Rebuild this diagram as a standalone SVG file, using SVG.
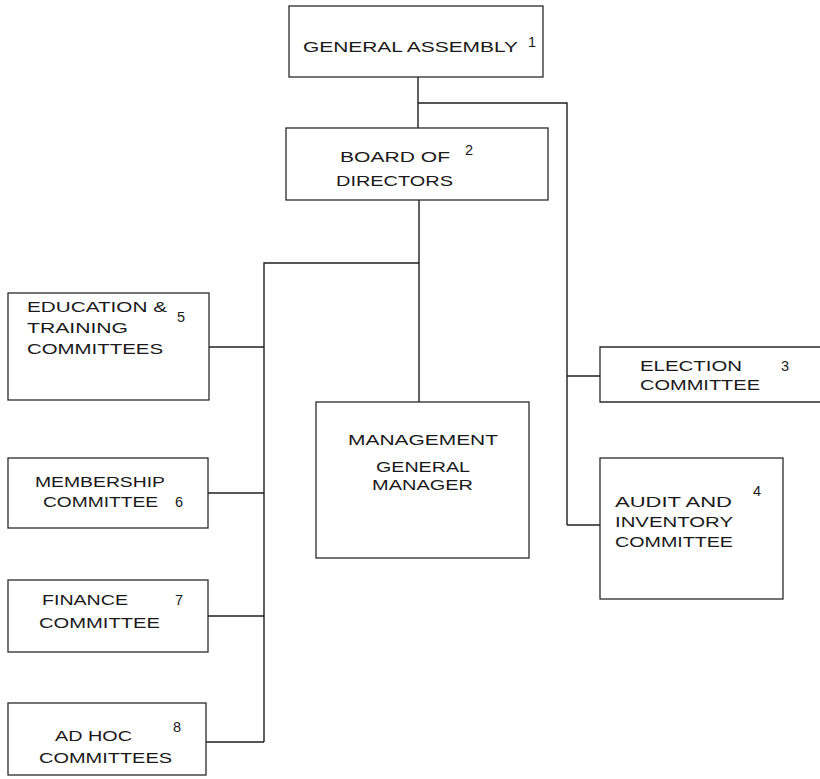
<svg xmlns="http://www.w3.org/2000/svg" width="820" height="779" viewBox="0 0 820 779">
  <style>
    .box { fill: none; stroke: #2a2a2a; stroke-width: 1.3; }
    .wire { fill: none; stroke: #1e1e1e; stroke-width: 1.4; }
    text { font-family: "Liberation Sans", Arial, sans-serif; font-size: 14.5px; fill: #1a1a1a; }
    .num { font-size: 14.5px; }
  </style>
  <rect width="820" height="779" fill="#ffffff"/>

  <!-- connectors -->
  <g id="connectors">
    <!-- General Assembly to Board, with branch to the right-hand committees -->
    <path class="wire" d="M418,77 V128"/>
    <path class="wire" d="M418,103 H567 V525"/>
    <path class="wire" d="M567,376 H600"/>
    <path class="wire" d="M567,525 H600"/>
    <!-- Board to Management and the left-hand committees -->
    <path class="wire" d="M419,200 V402"/>
    <path class="wire" d="M419,263 H264 V742"/>
    <path class="wire" d="M209,347 H264"/>
    <path class="wire" d="M208,493 H264"/>
    <path class="wire" d="M208,616 H264"/>
    <path class="wire" d="M206,742 H264"/>
  </g>

  <g id="general-assembly">
    <rect class="box" x="289" y="6" width="254" height="71"/>
    <text x="303" y="52" textLength="215" lengthAdjust="spacingAndGlyphs">GENERAL ASSEMBLY</text>
    <text class="num" x="528" y="47">1</text>
  </g>

  <g id="board-of-directors">
    <rect class="box" x="286" y="128" width="262" height="72"/>
    <text x="340" y="162" textLength="110" lengthAdjust="spacingAndGlyphs">BOARD OF</text>
    <text class="num" x="465" y="155">2</text>
    <text x="336" y="186" textLength="117" lengthAdjust="spacingAndGlyphs">DIRECTORS</text>
  </g>

  <g id="election-committee">
    <path class="box" d="M820,347 H600 V402 H820"/>
    <text x="640" y="371" textLength="102" lengthAdjust="spacingAndGlyphs">ELECTION</text>
    <text class="num" x="781" y="371">3</text>
    <text x="640" y="390" textLength="120" lengthAdjust="spacingAndGlyphs">COMMITTEE</text>
  </g>

  <g id="audit-inventory-committee">
    <rect class="box" x="600" y="458" width="183" height="141"/>
    <text class="num" x="753" y="496">4</text>
    <text x="615" y="507" textLength="117" lengthAdjust="spacingAndGlyphs">AUDIT AND</text>
    <text x="615" y="527" textLength="118" lengthAdjust="spacingAndGlyphs">INVENTORY</text>
    <text x="615" y="547" textLength="118" lengthAdjust="spacingAndGlyphs">COMMITTEE</text>
  </g>

  <g id="management">
    <rect class="box" x="316" y="402" width="213" height="156"/>
    <text x="348" y="445" textLength="150" lengthAdjust="spacingAndGlyphs">MANAGEMENT</text>
    <text x="376" y="472" textLength="94" lengthAdjust="spacingAndGlyphs">GENERAL</text>
    <text x="372" y="490" textLength="101" lengthAdjust="spacingAndGlyphs">MANAGER</text>
  </g>

  <g id="education-training-committees">
    <rect class="box" x="8" y="293" width="201" height="107"/>
    <text x="27" y="312" textLength="140" lengthAdjust="spacingAndGlyphs">EDUCATION &amp;</text>
    <text class="num" x="177" y="322">5</text>
    <text x="27" y="333" textLength="101" lengthAdjust="spacingAndGlyphs">TRAINING</text>
    <text x="27" y="354" textLength="136" lengthAdjust="spacingAndGlyphs">COMMITTEES</text>
  </g>

  <g id="membership-committee">
    <rect class="box" x="8" y="458" width="200" height="70"/>
    <text x="35" y="487" textLength="130" lengthAdjust="spacingAndGlyphs">MEMBERSHIP</text>
    <text x="43" y="507" textLength="115" lengthAdjust="spacingAndGlyphs">COMMITTEE</text>
    <text class="num" x="175" y="507">6</text>
  </g>

  <g id="finance-committee">
    <rect class="box" x="8" y="580" width="200" height="72"/>
    <text x="42" y="605" textLength="86" lengthAdjust="spacingAndGlyphs">FINANCE</text>
    <text class="num" x="175" y="605">7</text>
    <text x="39" y="628" textLength="121" lengthAdjust="spacingAndGlyphs">COMMITTEE</text>
  </g>

  <g id="ad-hoc-committees">
    <rect class="box" x="8" y="703" width="198" height="72"/>
    <text x="55" y="741" textLength="77" lengthAdjust="spacingAndGlyphs">AD HOC</text>
    <text class="num" x="173" y="732">8</text>
    <text x="39" y="763" textLength="133" lengthAdjust="spacingAndGlyphs">COMMITTEES</text>
  </g>
</svg>
